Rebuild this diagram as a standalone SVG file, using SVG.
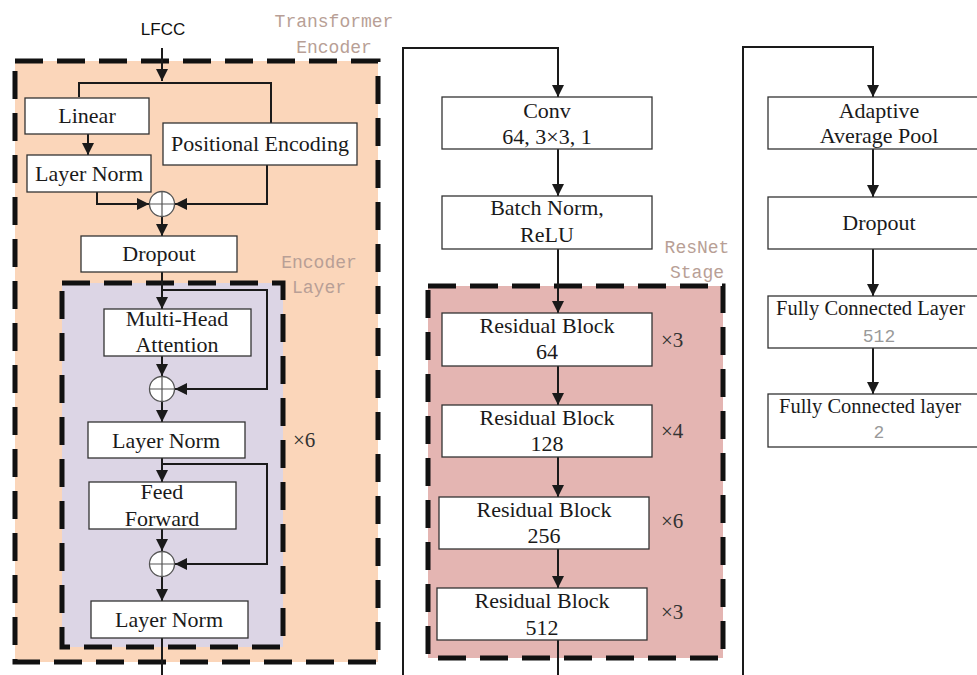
<svg xmlns="http://www.w3.org/2000/svg" width="977" height="675" viewBox="0 0 977 675">
<defs>
<marker id="ah" viewBox="0 0 12 12" markerWidth="12" markerHeight="12" refX="12" refY="6" orient="auto" markerUnits="userSpaceOnUse">
<path d="M0,0 L12,6 L0,12 z" fill="#1a1a1a"/>
</marker>
</defs>
<style>
.bg{fill:#ffffff}
.outer{fill:#fbd6ba;stroke:#111;stroke-width:5;stroke-dasharray:28 14}
.inner{fill:#dcd5e5;stroke:#111;stroke-width:5;stroke-dasharray:28 14}
.res{fill:#e4b5b2;stroke:#111;stroke-width:5;stroke-dasharray:28 14}
.box{fill:#fff;stroke:#333;stroke-width:1.3}
.t{font-family:"Liberation Serif","Times New Roman",serif;font-size:22px;fill:#1a1a1a;text-anchor:middle}
.fc{font-family:"Liberation Serif","Times New Roman",serif;font-size:20.5px;fill:#1a1a1a;text-anchor:start}
.m{font-family:"Liberation Mono","Courier New",monospace;font-size:18px;fill:#b89f96;text-anchor:middle}
.g{font-family:"Liberation Mono","Courier New",monospace;font-size:18px;fill:#999;text-anchor:middle}
.x{font-family:"Liberation Serif","Times New Roman",serif;font-size:21px;fill:#333;text-anchor:start}
.c{fill:none;stroke:#1a1a1a;stroke-width:2}
.a{fill:none;stroke:#1a1a1a;stroke-width:2;marker-end:url(#ah)}
.plus{fill:#fff;stroke:#555;stroke-width:1.3}
</style>
<rect class="bg" x="0" y="0" width="977" height="675"/>

<g id="containers">
<rect class="outer" x="15" y="61" width="363" height="601"/>
<rect class="inner" x="62" y="283" width="221" height="364"/>
<rect class="res" x="428" y="286" width="295" height="372"/>
<text class="m" x="334" y="27">Transformer</text>
<text class="m" x="334" y="53">Encoder</text>
<text class="m" x="319" y="268">Encoder</text>
<text class="m" x="319" y="293">Layer</text>
<text class="m" x="697" y="253">ResNet</text>
<text class="m" x="697" y="278">Stage</text>
<text class="x" x="293" y="447">×6</text>
<text class="x" x="661" y="347">×3</text>
<text class="x" x="661" y="438">×4</text>
<text class="x" x="661" y="528">×6</text>
<text class="x" x="661" y="619">×3</text>
</g>

<g id="connectors">
<path class="a" d="M162,48 V81"/>
<path class="c" d="M79,97 V83 H271 V123"/>
<path class="a" d="M88,134 V155"/>
<path class="a" d="M97,192 V204 H149"/>
<path class="a" d="M267,165 V204 H175"/>
<path class="a" d="M162,217 V236"/>
<path class="a" d="M162,272 V309"/>
<path class="a" d="M162,290 H267 V389 H175"/>
<path class="a" d="M162,356 V376"/>
<path class="a" d="M162,402 V422"/>
<path class="a" d="M162,458 V482"/>
<path class="a" d="M162,464 H267 V564 H175"/>
<path class="a" d="M162,529 V551"/>
<path class="a" d="M162,577 V601"/>
<path class="c" d="M162,638 V675"/>
<path class="a" d="M403,675 V48 H558 V97"/>
<path class="a" d="M558,149 V196"/>
<path class="a" d="M558,249 V313"/>
<path class="a" d="M558,366 V405"/>
<path class="a" d="M558,457 V497"/>
<path class="a" d="M558,549 V588"/>
<path class="c" d="M558,640 V675"/>
<path class="a" d="M743,675 V47 H873 V97"/>
<path class="a" d="M873,149 V197"/>
<path class="a" d="M873,249 V296"/>
<path class="a" d="M873,348 V394"/>
</g>

<g id="lfcc"><text x="163" y="35" font-family="'Liberation Sans',Arial,sans-serif" font-size="17" fill="#111" text-anchor="middle">LFCC</text></g>

<g id="linear"><rect class="box" x="25" y="98" width="124" height="36"/><text class="t" x="87" y="123">Linear</text></g>
<g id="posenc"><rect class="box" x="163" y="123" width="194" height="42"/><text class="t" x="260" y="151">Positional Encoding</text></g>
<g id="ln0"><rect class="box" x="27" y="155" width="124" height="37"/><text class="t" x="89" y="181">Layer Norm</text></g>
<g id="add0"><circle class="plus" cx="162" cy="204" r="12.5"/><path d="M149.5,204 H174.5 M162,191.5 V216.5" stroke="#555" stroke-width="1.2"/></g>
<g id="dropout1"><rect class="box" x="81" y="236" width="156" height="36"/><text class="t" x="159" y="261">Dropout</text></g>
<g id="mha"><rect class="box" x="104" y="309" width="147" height="47"/><text class="t" x="177" y="326">Multi-Head</text><text class="t" x="177" y="352">Attention</text></g>
<g id="add1"><circle class="plus" cx="162" cy="389" r="12.5"/><path d="M149.5,389 H174.5 M162,376.5 V401.5" stroke="#555" stroke-width="1.2"/></g>
<g id="ln1"><rect class="box" x="88" y="422" width="157" height="36"/><text class="t" x="166" y="448">Layer Norm</text></g>
<g id="ff"><rect class="box" x="89" y="482" width="147" height="47"/><text class="t" x="162" y="499">Feed</text><text class="t" x="162" y="526">Forward</text></g>
<g id="add2"><circle class="plus" cx="162" cy="564" r="12.5"/><path d="M149.5,564 H174.5 M162,551.5 V576.5" stroke="#555" stroke-width="1.2"/></g>
<g id="ln2"><rect class="box" x="91" y="601" width="157" height="37"/><text class="t" x="169" y="627">Layer Norm</text></g>

<g id="conv"><rect class="box" x="442" y="97" width="210" height="52"/><text class="t" x="547" y="118">Conv</text><text class="t" x="547" y="144">64, 3×3, 1</text></g>
<g id="bn"><rect class="box" x="442" y="196" width="210" height="53"/><text class="t" x="547" y="215">Batch Norm,</text><text class="t" x="547" y="242">ReLU</text></g>
<g id="rb64"><rect class="box" x="442" y="313" width="210" height="53"/><text class="t" x="547" y="333">Residual Block</text><text class="t" x="547" y="359">64</text></g>
<g id="rb128"><rect class="box" x="442" y="405" width="210" height="52"/><text class="t" x="547" y="425">Residual Block</text><text class="t" x="547" y="451">128</text></g>
<g id="rb256"><rect class="box" x="439" y="497" width="210" height="52"/><text class="t" x="544" y="517">Residual Block</text><text class="t" x="544" y="543">256</text></g>
<g id="rb512"><rect class="box" x="437" y="588" width="210" height="52"/><text class="t" x="542" y="608">Residual Block</text><text class="t" x="542" y="635">512</text></g>

<g id="pool"><rect class="box" x="768" y="97" width="222" height="52"/><text class="t" x="879" y="118">Adaptive</text><text class="t" x="879" y="143">Average Pool</text></g>
<g id="dropout2"><rect class="box" x="768" y="197" width="222" height="52"/><text class="t" x="879" y="230">Dropout</text></g>
<g id="fc512"><rect class="box" x="768" y="296" width="222" height="52"/><text class="fc" x="776" y="315">Fully Connected Layer</text><text class="g" x="879" y="342">512</text></g>
<g id="fc2"><rect class="box" x="768" y="394" width="222" height="53"/><text class="fc" x="779" y="413">Fully Connected layer</text><text class="g" x="879" y="438">2</text></g>
</svg>
